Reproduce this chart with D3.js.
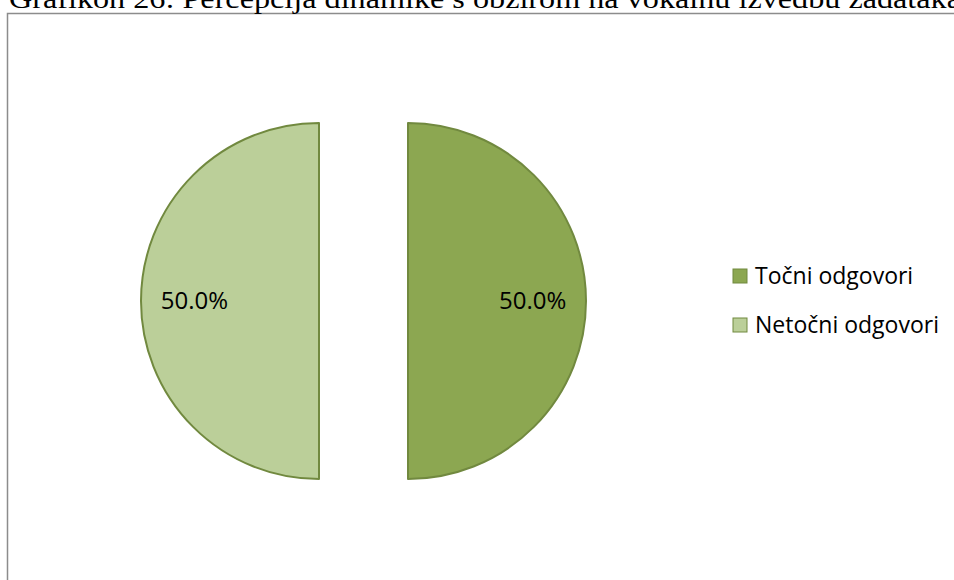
<!DOCTYPE html>
<meta charset="utf-8">
<script src="https://d3js.org/d3.v7.min.js"></script>
<style>
  body { margin: 0; background: #fff; }
</style>
<div id="chart"></div>
<script>
  // chart data
  var categories = ["Točni odgovori", "Netočni odgovori"];
  var values = [50, 50];
  var labels = ["50.0%", "50.0%"];
  var colors = ["#8CA751", "#BBCF99"];
  var title = "Grafikon 26: Percepcija dinamike s obzirom na vokalnu izvedbu zadataka";

  var width = 954, height = 580;
  var cx = 363.5, cy = 301, radius = 178, explode = 44.5;

  var svg = d3.select("#chart")
    .append("svg")
      .attr("width", width)
      .attr("height", height);

  // chart frame
  svg.append("rect")
    .attr("x", 7.5)
    .attr("y", 13.5)
    .attr("width", 1000)
    .attr("height", 600)
    .attr("fill", "#fff")
    .attr("stroke", "#8c8c8c")
    .attr("stroke-width", 1.5);

  // title (top part cut off like the original)
  svg.append("text")
    .attr("x", 9)
    .attr("y", 8)
    .style("font-family", "'Liberation Serif', 'Times New Roman', serif")
    .style("font-size", "28px")
    .attr("fill", "#000")
    .attr("textLength", 952)
    .attr("lengthAdjust", "spacingAndGlyphs")
    .text(title);

  var pie = d3.pie().sort(null).value(function(d) { return d; });
  var arcs = pie(values);
  var arc = d3.arc().innerRadius(0).outerRadius(radius);
  var labelArc = d3.arc().innerRadius(radius * 0.7).outerRadius(radius * 0.7);

  var g = svg.append("g")
    .attr("transform", "translate(" + cx + "," + cy + ")");

  var slices = g.selectAll(".slice")
    .data(arcs)
    .enter()
    .append("g")
      .attr("class", "slice")
      .attr("transform", function(d) {
        var a = (d.startAngle + d.endAngle) / 2;
        return "translate(" + (Math.sin(a) * explode) + "," + (-Math.cos(a) * explode) + ")";
      });

  slices.append("path")
    .attr("d", arc)
    .attr("fill", function(d, i) { return colors[i]; })
    .attr("stroke", "#71893F")
    .attr("stroke-width", 2)
    .attr("stroke-linejoin", "round");

  slices.append("text")
    .attr("transform", function(d) { return "translate(" + labelArc.centroid(d) + ")"; })
    .attr("text-anchor", "middle")
    .attr("dy", "0.35em")
    .style("font-family", "'Open Sans', 'Noto Sans', sans-serif")
    .style("font-size", "24px")
    .attr("fill", "#000")
    .text(function(d, i) { return labels[i]; });

  // legend
  var legend = svg.selectAll(".legend")
    .data(categories)
    .enter()
    .append("g")
      .attr("class", "legend")
      .attr("transform", function(d, i) { return "translate(733," + (269 + i * 49) + ")"; });

  legend.append("rect")
    .attr("width", 14)
    .attr("height", 14)
    .attr("fill", function(d, i) { return colors[i]; })
    .attr("stroke", "#71893F")
    .attr("stroke-width", 1);

  legend.append("text")
    .attr("x", 22)
    .attr("y", 7)
    .attr("dy", "0.35em")
    .style("font-family", "'Open Sans', 'Noto Sans', sans-serif")
    .style("font-size", "23px")
    .attr("fill", "#000")
    .text(function(d) { return d; });
</script>
